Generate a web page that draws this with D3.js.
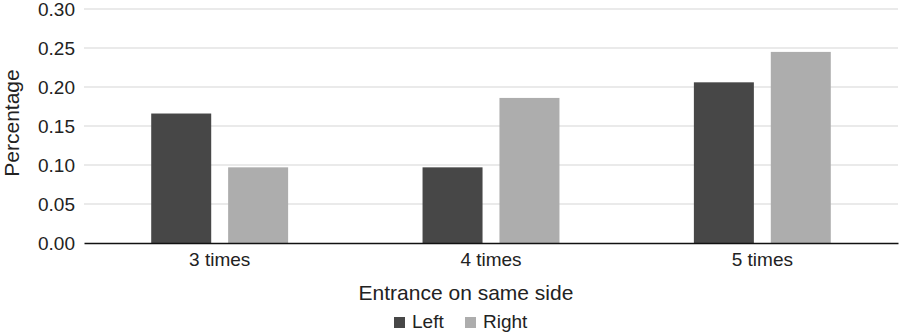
<!DOCTYPE html>
<html><head><meta charset="utf-8">
<script src="https://cdn.jsdelivr.net/npm/d3@7"></script>
<style>body{margin:0;background:#fff}svg{display:block}text{font-family:"Liberation Sans",Arial,sans-serif}</style>
</head><body>
<svg id="c" width="900" height="334"></svg>
<script>
const categories = ["3 times", "4 times", "5 times"];
const seriesNames = ["Left", "Right"];
const leftValues = [0.166, 0.097, 0.206];
const rightValues = [0.097, 0.186, 0.245];
const yTicks = [0, 0.05, 0.10, 0.15, 0.20, 0.25, 0.30];
const colors = ["#474747", "#adadad"];

const svg = d3.select("#c");
const m = {l: 84, r: 2, t: 9, b: 91};
const W = 900, H = 334;
const x0 = d3.scaleBand().domain(categories).range([m.l, W - m.r]).padding(0);
const inner = x0.bandwidth();
const x1 = d3.scaleBand().domain(seriesNames)
  .range([inner * 0.2477, inner * 0.7523]).paddingInner(0.22).paddingOuter(0);
const y = d3.scaleLinear().domain([0, 0.30]).range([H - m.b, m.t]);

// gridlines
svg.append("g").selectAll("line").data(yTicks.slice(1)).join("line")
  .attr("x1", m.l).attr("x2", W - m.r)
  .attr("y1", d => y(d)).attr("y2", d => y(d))
  .attr("stroke", "#e3e3e3").attr("stroke-width", 1.3);

// y axis labels
const yAxis = d3.axisLeft(y).tickValues(yTicks).tickFormat(d3.format(".2f")).tickSize(0).tickPadding(9);
const ga = svg.append("g").attr("transform", `translate(${m.l},0)`).call(yAxis);
ga.select(".domain").remove();
ga.selectAll("text").attr("font-size", 19).attr("fill", "#222");

const data = categories.map((c, i) => ({c, vals: [leftValues[i], rightValues[i]]}));
svg.append("g").selectAll("g").data(data).join("g")
  .attr("transform", d => `translate(${x0(d.c)},0)`)
  .selectAll("rect").data(d => d.vals.map((v, j) => ({s: seriesNames[j], v, j}))).join("rect")
  .attr("x", d => x1(d.s)).attr("width", x1.bandwidth())
  .attr("y", d => y(d.v)).attr("height", d => y(0) - y(d.v))
  .attr("fill", d => colors[d.j]);

// x axis
const xAxis = d3.axisBottom(x0).tickSize(0).tickPadding(10);
const gx = svg.append("g").attr("transform", `translate(0,${y(0)})`).call(xAxis);
gx.select(".domain").attr("stroke", "#111").attr("stroke-width", 1.5);
gx.selectAll("text").attr("font-size", 19).attr("fill", "#222");

svg.append("text").attr("x", 466).attr("y", 300).attr("text-anchor", "middle")
  .attr("font-size", 21).attr("fill", "#222").text("Entrance on same side");

svg.append("text").attr("transform", "translate(19,123) rotate(-90)").attr("text-anchor", "middle")
  .attr("font-size", 21).attr("fill", "#222").text("Percentage");

// legend
const legX = [394, 465];
const lg = svg.append("g").selectAll("g").data(seriesNames).join("g")
  .attr("transform", (d, i) => `translate(${legX[i]},317)`);
lg.append("rect").attr("width", 11).attr("height", 11).attr("fill", (d, i) => colors[i]);
lg.append("text").attr("x", 18).attr("y", 11).attr("font-size", 19).attr("fill", "#222").text(d => d);
</script>
</body></html>
